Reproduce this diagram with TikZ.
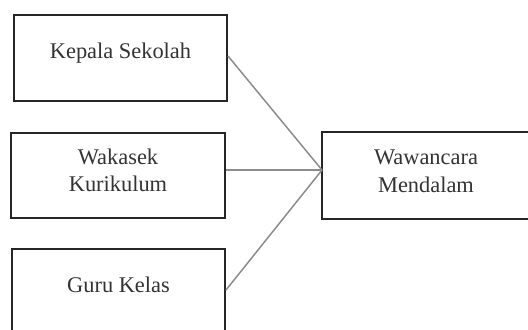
\documentclass[tikz,border=0pt]{standalone}
\usepackage{fontspec}
\setmainfont{Liberation Serif}
\usetikzlibrary{calc}
\begin{document}
\begin{tikzpicture}[x=0.5pt,y=-0.5pt,
  box/.style={draw=black!85,line width=1pt,fill=white,inner sep=0pt},
  txt/.style={inner sep=0pt,align=center,text=black!80,font=\fontsize{11.2pt}{13.8pt}\selectfont},
  conn/.style={draw=black!45,line width=0.75pt}]
\useasboundingbox (0,0) rectangle (528,329);
\node[box,minimum width=106.5pt,minimum height=43pt] (ks) at (120.5,58) {};
\node[box,minimum width=107pt,minimum height=42.5pt] (wk) at (118,175.5) {};
\node[box,minimum width=106.5pt,minimum height=41pt] (gk) at (118.5,290) {};
\node[box,minimum width=104pt,minimum height=43.5pt] (wm) at (426,175.5) {};
\node[txt] (ksT) at ($(ks.center)+(0,-5)$) {Kepala Sekolah};
\node[txt] (wkT) at ($(wk.center)+(0,-5)$) {Wakasek\\Kurikulum};
\node[txt] (gkT) at ($(gk.center)+(0,-5)$) {Guru Kelas};
\node[txt] (wmT) at ($(wm.center)+(0,-4)$) {Wawancara\\Mendalam};
\coordinate (m) at (322,170);
\draw[conn] ($(ks.east)+(0,-2)$) -- (m);
\draw[conn] (wk.east |- m) -- (m);
\draw[conn] (gk.east) -- (m);
\end{tikzpicture}
\end{document}
